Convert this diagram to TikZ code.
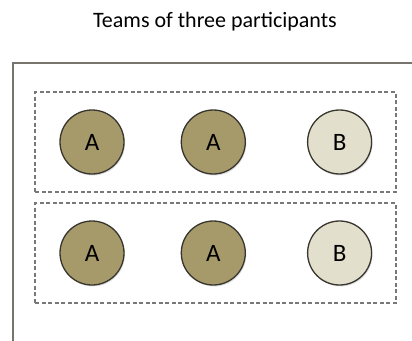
\documentclass[tikz,border=0pt]{standalone}
\usepackage{fontspec}
\setmainfont{Carlito}
\usetikzlibrary{positioning, fit, shadows}
\definecolor{teamolive}{RGB}{166, 154, 106}
\definecolor{teamlight}{RGB}{227, 223, 205}
\definecolor{teamedge}{RGB}{55, 53, 46}
\definecolor{teamframe}{RGB}{118, 116, 108}
\definecolor{teamdash}{RGB}{120, 120, 120}
\tikzset{
  member/.style={circle, draw=teamedge, line width=1.3pt, minimum size=64pt, inner sep=0pt,
    font=\fontsize{25}{27}\selectfont, drop shadow={opacity=0.25, shadow xshift=1pt, shadow yshift=-1.5pt}},
  amember/.style={member, fill=teamolive},
  bmember/.style={member, fill=teamlight},
  teambox/.style={draw=teamdash, dash pattern=on 4pt off 2.5pt, line width=1.8pt, inner xsep=24pt, inner ysep=17pt},
  frame/.style={draw=teamframe, line width=2.2pt}
}

\begin{document}
\begin{tikzpicture}[x=1pt, y=-1pt]
  \useasboundingbox (0,0) rectangle (412,340);
  \clip (0,0) rectangle (412,340);
  \node[font=\fontsize{22}{26}\selectfont] (title) at (215,22) {Teams of three participants};
  \draw[frame] (13,380) |- (460,63);
  % first team
  \node[amember] (a1) at (92,142) {A};
  \node[amember, right=56pt of a1] (a2) {A};
  \node[bmember, right=61pt of a2] (b1) {B};
  \node[teambox, fit=(a1) (a2) (b1)] (team1) {};
  % second team
  \node[amember] (a3) at (92,253) {A};
  \node[amember, right=56pt of a3] (a4) {A};
  \node[bmember, right=61pt of a4] (b2) {B};
  \node[teambox, fit=(a3) (a4) (b2)] (team2) {};
\end{tikzpicture}
\end{document}
